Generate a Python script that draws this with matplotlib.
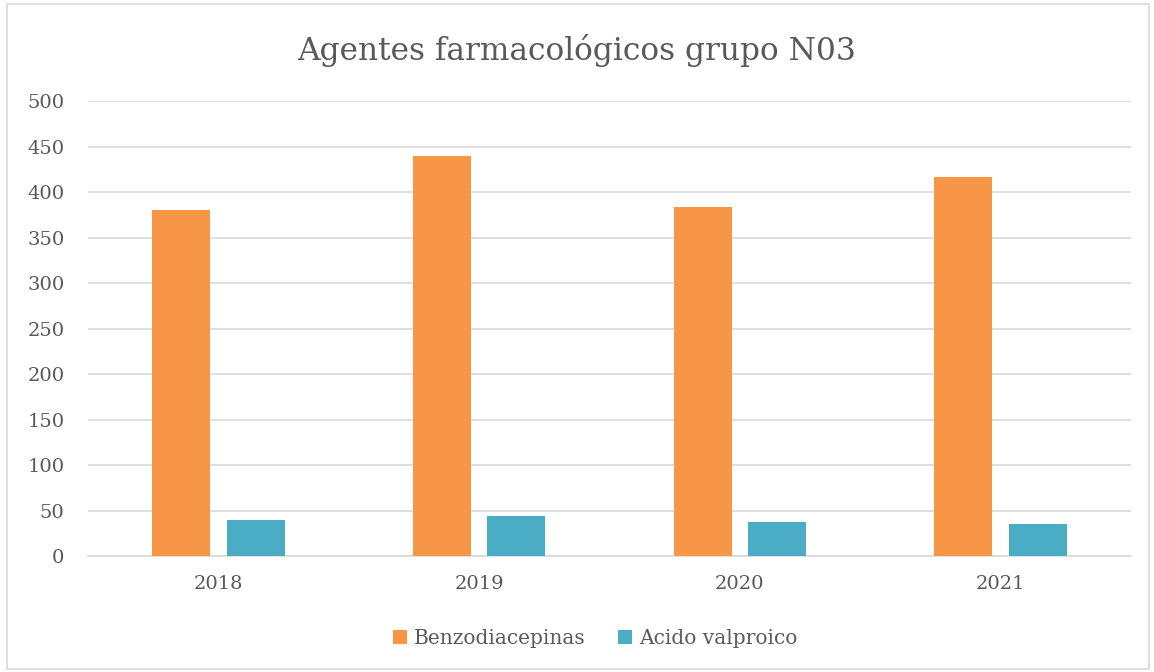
import numpy as np
import matplotlib.pyplot as plt
from matplotlib.patches import Rectangle

# data
years = ['2018', '2019', '2020', '2021']
benzo = [380, 440, 384, 416]
acido = [40, 44, 37, 35]
series_names = ['Benzodiacepinas', 'Acido valproico']
colors = ['#F79646', '#4BACC6']
text_gray = '#595959'

plt.rcParams['font.family'] = ['DejaVu Serif']

fig = plt.figure(figsize=(11.54, 6.72), dpi=100)
ax = fig.add_axes([0.0763, 0.1726, 0.9037, 0.6771])

# outer chart frame
fig.patches.append(Rectangle((0.006, 0.004), 0.99, 0.99, transform=fig.transFigure,
                             fill=False, edgecolor='#D9D9D9', linewidth=1.2))

x = np.arange(len(years))
w = 0.222
off = 0.143
ax.bar(x - off, benzo, w, color=colors[0], label=series_names[0], zorder=3)
ax.bar(x + off, acido, w, color=colors[1], label=series_names[1], zorder=3)

ax.set_xlim(-0.5, 3.5)
ax.set_ylim(0, 500)
ax.set_yticks(np.arange(0, 501, 50))
ax.set_xticks(x)
ax.set_xticklabels(years)
ax.yaxis.grid(True, color='#D9D9D9', linewidth=1.2, zorder=0)
for s in ['top', 'right', 'left']:
    ax.spines[s].set_visible(False)
ax.spines['bottom'].set_color('#D9D9D9')
ax.spines['bottom'].set_linewidth(1.2)
ax.tick_params(axis='both', length=0, labelsize=14, labelcolor=text_gray)
ax.tick_params(axis='y', pad=17)
ax.tick_params(axis='x', pad=14)

fig.text(0.5, 0.925, 'Agentes farmacológicos grupo N03', ha='center', va='center',
         fontsize=22.5, color=text_gray)

fig.legend(loc='center', bbox_to_anchor=(0.516, 0.05), ncol=2, frameon=False,
           fontsize=14.5, labelcolor=text_gray, handlelength=0.7, handleheight=0.7,
           handletextpad=0.35, columnspacing=1.6)

fig.savefig('out.png', dpi=100)
